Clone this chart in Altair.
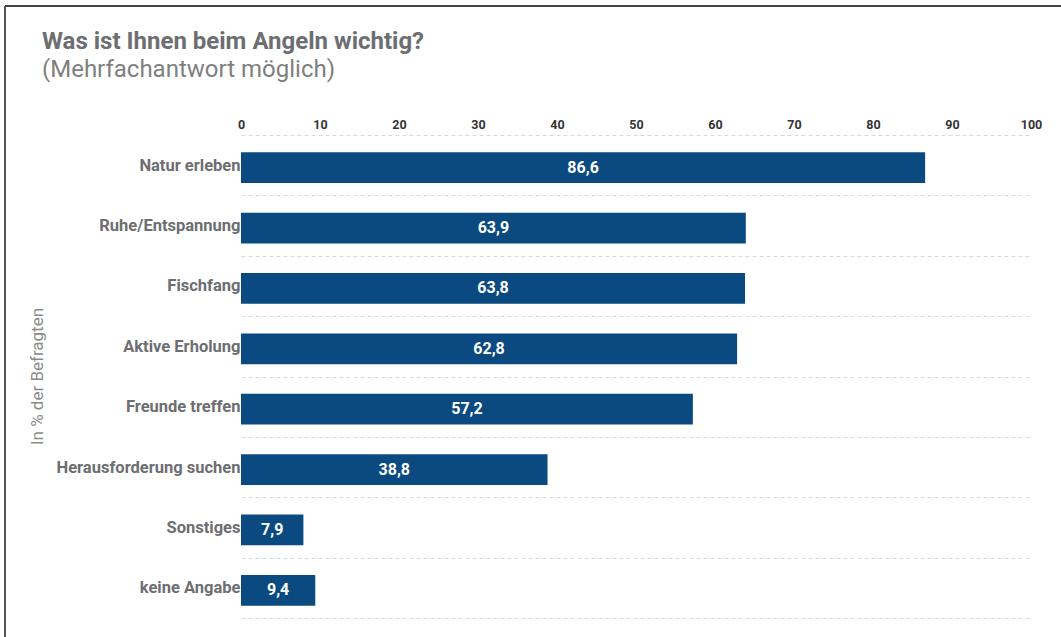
import altair as alt
import pandas as pd

title_text = "Was ist Ihnen beim Angeln wichtig?"
subtitle_text = "(Mehrfachantwort möglich)"
categories = ["Natur erleben", "Ruhe/Entspannung", "Fischfang", "Aktive Erholung",
              "Freunde treffen", "Herausforderung suchen", "Sonstiges", "keine Angabe"]
values = [86.6, 63.9, 63.8, 62.8, 57.2, 38.8, 7.9, 9.4]
x_ticks = [0, 10, 20, 30, 40, 50, 60, 70, 80, 90, 100]

df = pd.DataFrame({
    "cat": categories,
    "val": values,
    "label": [f"{v:.1f}".replace(".", ",") for v in values],
})
df["half"] = df["val"] / 2

FONT = "Roboto"
BAR = "#0b4a80"
GRAY = "#6d6e71"

y_scale = alt.Scale(paddingInner=0, paddingOuter=0)

y_enc = alt.Y("cat:N", sort=categories, scale=y_scale,
              axis=alt.Axis(title="In % der Befragten", titleFont=FONT, titleFontSize=17,
                            titleFontWeight="normal", titleColor="#8a8a8a",
                            titleAngle=270, titleX=-204, titleY=241,
                            titleAlign="center", titleBaseline="middle",
                            labelFont=FONT, labelFontSize=16.5, labelFontWeight="bold",
                            labelColor=GRAY, labelPadding=1, labelLimit=300,
                            ticks=False, domain=False, grid=True, tickBand="extent",
                            gridColor="#d9d9d9", gridDash=[4, 3], gridWidth=1))

x_enc = alt.X("val:Q", scale=alt.Scale(domain=[0, 100], nice=False),
              axis=alt.Axis(orient="top", values=x_ticks, title=None, grid=False,
                            ticks=False, domain=False, labelFont=FONT, labelFontSize=12.5,
                            labelFontWeight="bold", labelColor="#333333", labelPadding=4,
                            labelFlush=False))

bars = alt.Chart(df).mark_bar(color=BAR, yOffset=2.5, height={"band": 0.51}).encode(
    x=x_enc, y=y_enc)

texts = alt.Chart(df).mark_text(color="white", font=FONT, fontSize=16, fontWeight="bold",
                                yOffset=2.5, baseline="middle").encode(
    x=alt.X("half:Q"), y=alt.Y("cat:N", sort=categories, scale=y_scale), text="label:N")

frame_top = alt.Chart(df).mark_rule(color="#444444", strokeWidth=2).encode(
    x=alt.value(-236), x2=alt.value(820), y=alt.value(-129))
frame_left = alt.Chart(df).mark_rule(color="#555555", strokeWidth=2).encode(
    x=alt.value(-236), y=alt.value(-129), y2=alt.value(502))

title_mark = alt.Chart(pd.DataFrame({"t": [title_text]})).mark_text(
    font=FONT, fontSize=24, fontWeight="bold", color=GRAY, align="left",
    baseline="alphabetic").encode(text="t:N", x=alt.value(-199), y=alt.value(-86))
subtitle_mark = alt.Chart(pd.DataFrame({"t": [subtitle_text]})).mark_text(
    font=FONT, fontSize=24, fontWeight="normal", color="#7f7f7f", align="left",
    baseline="alphabetic").encode(text="t:N", x=alt.value(-199), y=alt.value(-58))

chart = alt.layer(frame_top, frame_left, title_mark, subtitle_mark, bars, texts).properties(
    width=790, height=483,
    autosize=alt.AutoSizeParams(type="none"),
    padding={"left": 241, "top": 135, "right": 30, "bottom": 19},
).configure(background="white").configure_view(strokeWidth=0)

chart.save("out.html", embed_options={"renderer": "svg", "actions": False})
